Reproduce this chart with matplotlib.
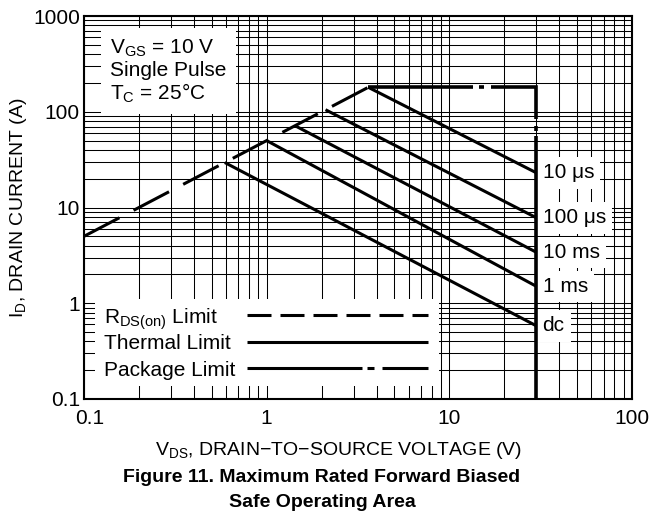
import numpy as np
import matplotlib
matplotlib.use('Agg')
import matplotlib.pyplot as plt
from matplotlib.patches import Rectangle
from matplotlib.ticker import LogLocator, NullFormatter
from matplotlib.transforms import ScaledTranslation

plt.rcParams['font.family'] = ['Liberation Sans', 'DejaVu Sans']
plt.rcParams['mathtext.fontset'] = 'custom'
plt.rcParams['mathtext.rm'] = 'Liberation Sans'
plt.rcParams['lines.scale_dashes'] = False

# R_DS(on) limit
rds_v = [0.1, 3.6]
rds_i = [5, 180]

# package limit: flat top, then straight down at 30 V
pkg_v = [3.6, 30, 30]
pkg_i = [180, 180, 0.1]

# thermal limit lines (start on the R_DS(on) line, end at 30 V)
pulse_labels = ['10 μs', '100 μs', '10 ms', '1 ms', 'dc']
v_start = [3.6, 2.1, 1.43, 1.0, 0.59]
i_start = [180, 105, 71.5, 50, 29.5]
v_end = [30, 30, 30, 30, 30]
i_end = [23, 7.8, 3.4, 1.5, 0.58]

x_ticks = [0.1, 1, 10, 100]
x_ticklabels = ['0.1', '1', '10', '100']
y_ticks = [0.1, 1, 10, 100, 1000]
y_ticklabels = ['0.1', '1', '10', '100', '1000']

key_labels = ['R$_{\\mathrm{DS(on)}}$ Limit', 'Thermal Limit', 'Package Limit']

fs = 15
lw = 2.2
px = 0.72  # pixels -> points at 100 dpi

fig = plt.figure(figsize=(6.49, 5.27), dpi=100)
ax = fig.add_axes([0.1294, 0.2429, 0.8444, 0.7267])
ax.set_xscale('log')
ax.set_yscale('log')
ax.set_xlim(0.1, 100)
ax.set_ylim(0.1, 1000)
ax.set_xticks(x_ticks, x_ticklabels)
ax.set_yticks(y_ticks, y_ticklabels)
for axis in [ax.xaxis, ax.yaxis]:
    axis.set_minor_locator(LogLocator(base=10, subs=np.arange(2, 10), numticks=50))
    axis.set_minor_formatter(NullFormatter())
ax.grid(True, which='both', color='black', lw=0.75)
ax.tick_params(which='both', length=0, labelsize=fs)
ax.tick_params(axis='x', pad=7)
ax.tick_params(axis='y', pad=3)
for s in ax.spines.values():
    s.set_linewidth(1.5)
# nudge the first x label off the corner
lab0 = ax.get_xticklabels()[0]
lab0.set_transform(lab0.get_transform() + ScaledTranslation(0.06, 0, fig.dpi_scale_trans))

# limit lines
ax.plot(rds_v, rds_i, color='black', lw=lw, ls=(0, (40 * px, 16 * px)),
        dash_capstyle='butt', zorder=4)
for k in range(len(pulse_labels)):
    ax.plot([v_start[k], v_end[k]], [i_start[k], i_end[k]], color='black',
            lw=lw, solid_capstyle='butt', zorder=4)
    ax.text(v_end[k] * 1.079, i_end[k], pulse_labels[k], fontsize=fs,
            va='center', ha='left', zorder=3,
            bbox=dict(boxstyle='square,pad=0.3', fc='white', ec='none'))
pkg_dash = [105, 6, 5, 7, 77, 7, 5, 5, 400, 1]
ax.plot(pkg_v, pkg_i, color='black', lw=2.6, ls=(0, [d * px for d in pkg_dash]),
        dash_joinstyle='miter', dash_capstyle='butt', zorder=4, clip_on=False)

# conditions box
ax.text(0.0474, 0.944, 'V$_{\\mathrm{GS}}$ = 10 V\nSingle Pulse\nT$_{\\mathrm{C}}$ = 25°C',
        transform=ax.transAxes, fontsize=fs, va='top', ha='left', linespacing=1.1,
        zorder=3, bbox=dict(boxstyle='square,pad=0.45', fc='white', ec='none'))

# key
ax.add_patch(Rectangle((0.020, 0.034), 0.628, 0.227, transform=ax.transAxes,
                       fc='white', ec='none', zorder=3))
key_text_y = [0.1984, 0.1305, 0.0601]
key_line_y = [0.2193, 0.1488, 0.0809]
key_styles = [(0, (24 * px, 9 * px)), '-', (0, (115 * px, 5 * px, 7 * px, 8 * px, 80 * px, 1))]
for k in range(3):
    ax.text(0.0365, key_text_y[k], key_labels[k], transform=ax.transAxes,
            fontsize=fs, va='baseline', ha='left', zorder=4)
    ax.plot([0.2974, 0.6277], [key_line_y[k], key_line_y[k]], transform=ax.transAxes,
            color='black', lw=lw, ls=key_styles[k], dash_capstyle='butt',
            solid_capstyle='butt', zorder=4)

ax.set_ylabel('I$_{\\mathrm{D}}$, DRAIN CURRENT (A)', fontsize=14)
ax.yaxis.set_label_coords(-0.1, 0.5)

fig.text(0.521, 0.1366, 'V$_{\\mathrm{DS}}$, DRAIN−TO−SOURCE VOLTAGE (V)',
         fontsize=14, ha='center', va='baseline')
fig.text(0.496, 0.0854, 'Figure 11. Maximum Rated Forward Biased',
         fontsize=14, fontweight='bold', ha='center', va='baseline')
fig.text(0.496, 0.038, 'Safe Operating Area',
         fontsize=14, fontweight='bold', ha='center', va='baseline')

fig.savefig('out.png', dpi=100)
